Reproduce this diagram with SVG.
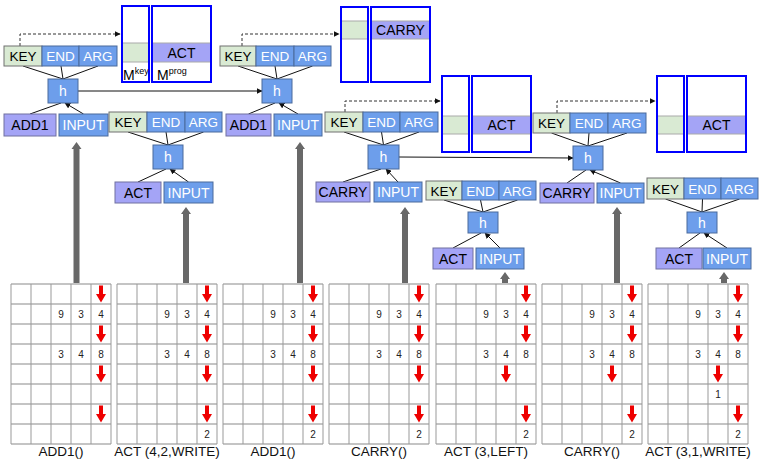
<svg xmlns="http://www.w3.org/2000/svg" xmlns:xlink="http://www.w3.org/1999/xlink" width="761" height="463" viewBox="0 0 761 463">
<style>
text{font-family:"Liberation Sans",Arial,sans-serif;text-anchor:middle}
.t{font-size:14px}
.ts{font-size:13.5px}
.w{fill:#fff}
.k{fill:#d9ead3;stroke:#707070;stroke-width:1}
.b{fill:#6d9eeb;stroke:#4a6a9c;stroke-width:1}
.p{fill:#a4a4f6;stroke:#7070a0;stroke-width:1}
.mb{fill:none;stroke:#0000ff;stroke-width:2}
.mw{fill:#fff}
.cg{fill:#d9ead3;stroke:#aaa;stroke-width:1}
.cp{fill:#a4a4f6;stroke:#aaa;stroke-width:1}
.c{stroke:#111;stroke-width:1;fill:none;marker-end:url(#ah)}
.d{stroke:#333;stroke-width:1;fill:none;stroke-dasharray:3,2;marker-end:url(#ah)}
.g{fill:#686868}
.n{font-size:10px;fill:#222}
.lab{font-size:13.5px;fill:#111}
.hl{stroke:#c4c4c4;stroke-width:2}
.vl{stroke:#999;stroke-width:1}
</style>
<defs>
<marker id="ah" viewBox="0 0 10 10" refX="9" refY="5" markerWidth="6" markerHeight="6" orient="auto" markerUnits="userSpaceOnUse"><path d="M0,0 L10,5 L0,10 z" fill="#111"/></marker>
<path id="ra" d="M-2,-8.5 h4 v8.5 h3 l-5,8.5 l-5,-8.5 h3 z" fill="#ee0000"/>
<g id="gl">
<rect x="0" y="0" width="100" height="160" fill="#fff"/>
<path class="hl" d="M0,0H100M0,20H100M0,40H100M0,60H100M0,80H100M0,100H100M0,120H100M0,140H100M0,160H100"/>
<path class="vl" d="M0,0V160M20,0V160M40,0V160M60,0V160M80,0V160M100,0V160"/>
</g>
</defs>
<rect width="761" height="463" fill="#fff"/>

<!-- memory boxes -->
<g id="mem1">
<rect class="mw" x="122" y="6" width="27" height="76"/>
<rect class="cg" x="122" y="43" width="27" height="19"/>
<rect class="mb" x="122" y="6" width="27" height="76"/>
<rect class="mw" x="152" y="6" width="59" height="76"/>
<rect class="cp" x="152" y="43" width="59" height="19"/>
<text class="t" x="181.5" y="57.5">ACT</text>
<rect class="mb" x="152" y="6" width="59" height="76"/>
<text style="font-size:14px;text-anchor:start" x="123" y="80">M<tspan style="font-size:9px" dy="-6">key</tspan></text>
<text style="font-size:14px;text-anchor:start" x="157" y="80">M<tspan style="font-size:9px" dy="-6">prog</tspan></text>
</g>
<g id="mem3">
<rect class="mw" x="341" y="7" width="27" height="75"/>
<rect class="cg" x="341" y="21" width="27" height="18"/>
<rect class="mb" x="341" y="7" width="27" height="75"/>
<rect class="mw" x="371" y="7" width="59" height="75"/>
<rect class="cp" x="371" y="21" width="59" height="18"/>
<text class="t" x="400.5" y="35">CARRY</text>
<rect class="mb" x="371" y="7" width="59" height="75"/>
</g>
<g id="mem4">
<rect class="mw" x="442" y="76" width="27" height="76"/>
<rect class="cg" x="442" y="116" width="27" height="18"/>
<rect class="mb" x="442" y="76" width="27" height="76"/>
<rect class="mw" x="472" y="76" width="59" height="76"/>
<rect class="cp" x="472" y="116" width="59" height="18"/>
<text class="t" x="501.5" y="130">ACT</text>
<rect class="mb" x="472" y="76" width="59" height="76"/>
</g>
<g id="mem6">
<rect class="mw" x="657" y="76" width="27" height="76"/>
<rect class="cg" x="657" y="116" width="27" height="18"/>
<rect class="mb" x="657" y="76" width="27" height="76"/>
<rect class="mw" x="687" y="76" width="59" height="76"/>
<rect class="cp" x="687" y="116" width="59" height="18"/>
<text class="t" x="716.5" y="130">ACT</text>
<rect class="mb" x="687" y="76" width="59" height="76"/>
</g>

<!-- connectors -->
<g id="connectors">
<path class="c" d="M63,79L23,66M63,79L61,66M63,79L98,66M30,114L61,103M83.5,114L65,103"/>
<path class="c" d="M168,145L128,132M168,145L166,132M168,145L203.5,132M138,182L166,169M188.5,182L170,169"/>
<path class="c" d="M277,79L238,66M277,79L275,66M277,79L312.5,66M248.5,114L275,103M298,114L279,103"/>
<path class="c" d="M383.5,145L344,132M383.5,145L381.5,132M383.5,145L419,132M343,182L381,169M398,182L386,169"/>
<path class="c" d="M483,212L444,200M483,212L480.5,200M483,212L517.5,200M453,248L481,233M500,248L485,233"/>
<path class="c" d="M588,146L551.5,133M588,146L589,133M588,146L627,133M567,183L586,170M620.5,183L590,170"/>
<path class="c" d="M702,212L665.5,199M702,212L702.5,199M702,212L739.5,199M679,248L700,233M727,248L704,233"/>
<path class="c" d="M78,91L262,91"/>
<path class="c" d="M399,157L573,158"/>
<path class="d" d="M20,46V34H120"/>
<path class="d" d="M242,46V34H339"/>
<path class="d" d="M345,112V101H440"/>
<path class="d" d="M557,113V101H655"/>
<path class="g" d="M73.5,283V149H71.5L76.5,142L81.5,149H79.5V283Z"/>
<path class="g" d="M183,283V214H181L186,207L191,214H189V283Z"/>
<path class="g" d="M297,283V149H295L300,142L305,149H303V283Z"/>
<path class="g" d="M402,283V214H400L405,207L410,214H408V283Z"/>
<path class="g" d="M502,283V279H500L505,272L510,279H508V283Z"/>
<path class="g" d="M614,283V214H612L617,207L622,214H620V283Z"/>
<path class="g" d="M721,283V279H719L724,272L729,279H727V283Z"/>
</g>

<!-- step 1 -->
<g id="s1-key"><rect class="k" x="4" y="46" width="38" height="20"/><text class="ts" x="23" y="61">KEY</text></g>
<g id="s1-end"><rect class="b" x="42" y="46" width="37" height="20"/><text class="ts w" x="60.5" y="61">END</text></g>
<g id="s1-arg"><rect class="b" x="79" y="46" width="38" height="20"/><text class="ts w" x="98" y="61">ARG</text></g>
<g id="s1-h"><rect class="b" x="48" y="79" width="30" height="24"/><text class="t w" x="63" y="96">h</text></g>
<g id="s1-op"><rect class="p" x="4" y="114" width="52" height="22"/><text class="t" x="30" y="130">ADD1</text></g>
<g id="s1-in"><rect class="b" x="59" y="114" width="49" height="22"/><text class="t w" x="83.5" y="130">INPUT</text></g>

<!-- step 2 -->
<g id="s2-key"><rect class="k" x="109" y="112" width="38" height="20"/><text class="ts" x="128" y="127">KEY</text></g>
<g id="s2-end"><rect class="b" x="147" y="112" width="38" height="20"/><text class="ts w" x="166" y="127">END</text></g>
<g id="s2-arg"><rect class="b" x="185" y="112" width="37" height="20"/><text class="ts w" x="203.5" y="127">ARG</text></g>
<g id="s2-h"><rect class="b" x="153" y="145" width="30" height="24"/><text class="t w" x="168" y="162">h</text></g>
<g id="s2-op"><rect class="p" x="115" y="182" width="46" height="21"/><text class="t" x="138" y="197.5">ACT</text></g>
<g id="s2-in"><rect class="b" x="164" y="182" width="49" height="21"/><text class="t w" x="188.5" y="197.5">INPUT</text></g>

<!-- step 3 -->
<g id="s3-key"><rect class="k" x="220" y="46" width="36" height="20"/><text class="ts" x="238" y="61">KEY</text></g>
<g id="s3-end"><rect class="b" x="256" y="46" width="38" height="20"/><text class="ts w" x="275" y="61">END</text></g>
<g id="s3-arg"><rect class="b" x="294" y="46" width="37" height="20"/><text class="ts w" x="312.5" y="61">ARG</text></g>
<g id="s3-h"><rect class="b" x="262" y="79" width="30" height="24"/><text class="t w" x="277" y="96">h</text></g>
<g id="s3-op"><rect class="p" x="226" y="114" width="45" height="22"/><text class="t" x="248.5" y="130">ADD1</text></g>
<g id="s3-in"><rect class="b" x="274" y="114" width="48" height="22"/><text class="t w" x="298" y="130">INPUT</text></g>

<!-- step 4 -->
<g id="s4-key"><rect class="k" x="325" y="112" width="38" height="20"/><text class="ts" x="344" y="127">KEY</text></g>
<g id="s4-end"><rect class="b" x="363" y="112" width="37" height="20"/><text class="ts w" x="381.5" y="127">END</text></g>
<g id="s4-arg"><rect class="b" x="400" y="112" width="38" height="20"/><text class="ts w" x="419" y="127">ARG</text></g>
<g id="s4-h"><rect class="b" x="368" y="145" width="31" height="24"/><text class="t w" x="383.5" y="162">h</text></g>
<g id="s4-op"><rect class="p" x="316" y="182" width="54" height="20"/><text class="t" x="343" y="197">CARRY</text></g>
<g id="s4-in"><rect class="b" x="374" y="182" width="48" height="20"/><text class="t w" x="398" y="197">INPUT</text></g>

<!-- step 5 -->
<g id="s5-key"><rect class="k" x="426" y="181" width="36" height="19"/><text class="ts" x="444" y="195.5">KEY</text></g>
<g id="s5-end"><rect class="b" x="462" y="181" width="37" height="19"/><text class="ts w" x="480.5" y="195.5">END</text></g>
<g id="s5-arg"><rect class="b" x="499" y="181" width="37" height="19"/><text class="ts w" x="517.5" y="195.5">ARG</text></g>
<g id="s5-h"><rect class="b" x="468" y="212" width="30" height="21"/><text class="t w" x="483" y="227.5">h</text></g>
<g id="s5-op"><rect class="p" x="433" y="248" width="40" height="21"/><text class="t" x="453" y="263.5">ACT</text></g>
<g id="s5-in"><rect class="b" x="476" y="248" width="48" height="21"/><text class="t w" x="500" y="263.5">INPUT</text></g>

<!-- step 6 -->
<g id="s6-key"><rect class="k" x="533" y="113" width="37" height="20"/><text class="ts" x="551.5" y="128">KEY</text></g>
<g id="s6-end"><rect class="b" x="570" y="113" width="38" height="20"/><text class="ts w" x="589" y="128">END</text></g>
<g id="s6-arg"><rect class="b" x="608" y="113" width="38" height="20"/><text class="ts w" x="627" y="128">ARG</text></g>
<g id="s6-h"><rect class="b" x="573" y="146" width="30" height="24"/><text class="t w" x="588" y="163">h</text></g>
<g id="s6-op"><rect class="p" x="540" y="183" width="54" height="20"/><text class="t" x="567" y="198">CARRY</text></g>
<g id="s6-in"><rect class="b" x="597" y="183" width="47" height="20"/><text class="t w" x="620.5" y="198">INPUT</text></g>

<!-- step 7 -->
<g id="s7-key"><rect class="k" x="647" y="178" width="37" height="21"/><text class="ts" x="665.5" y="193.5">KEY</text></g>
<g id="s7-end"><rect class="b" x="684" y="178" width="37" height="21"/><text class="ts w" x="702.5" y="193.5">END</text></g>
<g id="s7-arg"><rect class="b" x="721" y="178" width="37" height="21"/><text class="ts w" x="739.5" y="193.5">ARG</text></g>
<g id="s7-h"><rect class="b" x="687" y="212" width="30" height="21"/><text class="t w" x="702" y="227.5">h</text></g>
<g id="s7-op"><rect class="p" x="656" y="248" width="46" height="21"/><text class="t" x="679" y="263.5">ACT</text></g>
<g id="s7-in"><rect class="b" x="703" y="248" width="48" height="21"/><text class="t w" x="727" y="263.5">INPUT</text></g>

<!-- grids -->
<g id="grid1" transform="translate(11,284)">
<use xlink:href="#gl"/>
<use xlink:href="#ra" x="90" y="10"/><use xlink:href="#ra" x="90" y="50"/><use xlink:href="#ra" x="90" y="90"/><use xlink:href="#ra" x="90" y="130"/>
<text class="n" x="50" y="33.5">9</text><text class="n" x="70" y="33.5">3</text><text class="n" x="90" y="33.5">4</text>
<text class="n" x="50" y="73.5">3</text><text class="n" x="70" y="73.5">4</text><text class="n" x="90" y="73.5">8</text>
<text class="lab" x="50" y="172">ADD1()</text>
</g>
<g id="grid2" transform="translate(117,284)">
<use xlink:href="#gl"/>
<use xlink:href="#ra" x="90" y="10"/><use xlink:href="#ra" x="90" y="50"/><use xlink:href="#ra" x="90" y="90"/><use xlink:href="#ra" x="90" y="130"/>
<text class="n" x="50" y="33.5">9</text><text class="n" x="70" y="33.5">3</text><text class="n" x="90" y="33.5">4</text>
<text class="n" x="50" y="73.5">3</text><text class="n" x="70" y="73.5">4</text><text class="n" x="90" y="73.5">8</text>
<text class="n" x="90" y="153.5">2</text>
<text class="lab" x="50" y="172">ACT (4,2,WRITE)</text>
</g>
<g id="grid3" transform="translate(223,284)">
<use xlink:href="#gl"/>
<use xlink:href="#ra" x="90" y="10"/><use xlink:href="#ra" x="90" y="50"/><use xlink:href="#ra" x="90" y="90"/><use xlink:href="#ra" x="90" y="130"/>
<text class="n" x="50" y="33.5">9</text><text class="n" x="70" y="33.5">3</text><text class="n" x="90" y="33.5">4</text>
<text class="n" x="50" y="73.5">3</text><text class="n" x="70" y="73.5">4</text><text class="n" x="90" y="73.5">8</text>
<text class="n" x="90" y="153.5">2</text>
<text class="lab" x="50" y="172">ADD1()</text>
</g>
<g id="grid4" transform="translate(329,284)">
<use xlink:href="#gl"/>
<use xlink:href="#ra" x="90" y="10"/><use xlink:href="#ra" x="90" y="50"/><use xlink:href="#ra" x="90" y="90"/><use xlink:href="#ra" x="90" y="130"/>
<text class="n" x="50" y="33.5">9</text><text class="n" x="70" y="33.5">3</text><text class="n" x="90" y="33.5">4</text>
<text class="n" x="50" y="73.5">3</text><text class="n" x="70" y="73.5">4</text><text class="n" x="90" y="73.5">8</text>
<text class="n" x="90" y="153.5">2</text>
<text class="lab" x="50" y="172">CARRY()</text>
</g>
<g id="grid5" transform="translate(436,284)">
<use xlink:href="#gl"/>
<use xlink:href="#ra" x="90" y="10"/><use xlink:href="#ra" x="90" y="50"/><use xlink:href="#ra" x="70" y="90"/><use xlink:href="#ra" x="90" y="130"/>
<text class="n" x="50" y="33.5">9</text><text class="n" x="70" y="33.5">3</text><text class="n" x="90" y="33.5">4</text>
<text class="n" x="50" y="73.5">3</text><text class="n" x="70" y="73.5">4</text><text class="n" x="90" y="73.5">8</text>
<text class="n" x="90" y="153.5">2</text>
<text class="lab" x="50" y="172">ACT (3,LEFT)</text>
</g>
<g id="grid6" transform="translate(542,284)">
<use xlink:href="#gl"/>
<use xlink:href="#ra" x="90" y="10"/><use xlink:href="#ra" x="90" y="50"/><use xlink:href="#ra" x="70" y="90"/><use xlink:href="#ra" x="90" y="130"/>
<text class="n" x="50" y="33.5">9</text><text class="n" x="70" y="33.5">3</text><text class="n" x="90" y="33.5">4</text>
<text class="n" x="50" y="73.5">3</text><text class="n" x="70" y="73.5">4</text><text class="n" x="90" y="73.5">8</text>
<text class="n" x="90" y="153.5">2</text>
<text class="lab" x="50" y="172">CARRY()</text>
</g>
<g id="grid7" transform="translate(648,284)">
<use xlink:href="#gl"/>
<use xlink:href="#ra" x="90" y="10"/><use xlink:href="#ra" x="90" y="50"/><use xlink:href="#ra" x="70" y="90"/><use xlink:href="#ra" x="90" y="130"/>
<text class="n" x="50" y="33.5">9</text><text class="n" x="70" y="33.5">3</text><text class="n" x="90" y="33.5">4</text>
<text class="n" x="50" y="73.5">3</text><text class="n" x="70" y="73.5">4</text><text class="n" x="90" y="73.5">8</text>
<text class="n" x="70" y="113.5">1</text>
<text class="n" x="90" y="153.5">2</text>
<text class="lab" x="50" y="172">ACT (3,1,WRITE)</text>
</g>
</svg>
